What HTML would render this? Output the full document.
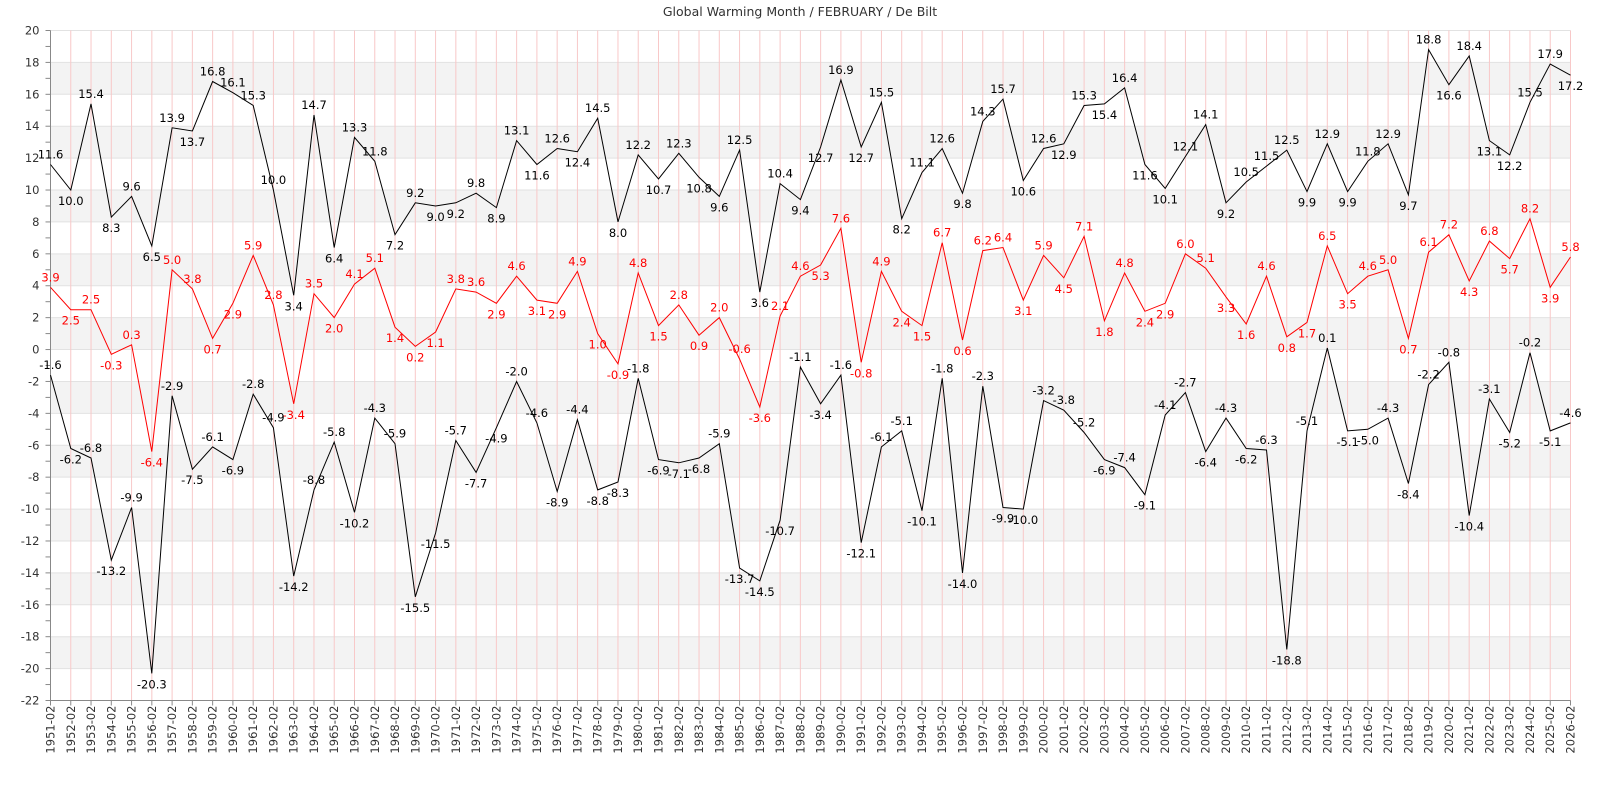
<!DOCTYPE html>
<html><head><meta charset="utf-8"><style>
html,body{margin:0;padding:0;background:#fff;width:1600px;height:800px;overflow:hidden}
svg{display:block}
svg text{font-family:"DejaVu Sans","Liberation Sans",sans-serif;font-size:11.5px}
</style></head><body>
<svg id="c" width="1600" height="800" xmlns="http://www.w3.org/2000/svg">
<text x="800" y="16" text-anchor="middle" style="font-size:12.5px" fill="#333">Global Warming Month / FEBRUARY / De Bilt</text>
</svg>
<script>
var mx=[11.6,10.0,15.4,8.3,9.6,6.5,13.9,13.7,16.8,16.1,15.3,10.0,3.4,14.7,6.4,13.3,11.8,7.2,9.2,9.0,9.2,9.8,8.9,13.1,11.6,12.6,12.4,14.5,8.0,12.2,10.7,12.3,10.8,9.6,12.5,3.6,10.4,9.4,12.7,16.9,12.7,15.5,8.2,11.1,12.6,9.8,14.3,15.7,10.6,12.6,12.9,15.3,15.4,16.4,11.6,10.1,12.1,14.1,9.2,10.5,11.5,12.5,9.9,12.9,9.9,11.8,12.9,9.7,18.8,16.6,18.4,13.1,12.2,15.5,17.9,17.2];
var me=[3.9,2.5,2.5,-0.3,0.3,-6.4,5.0,3.8,0.7,2.9,5.9,2.8,-3.4,3.5,2.0,4.1,5.1,1.4,0.2,1.1,3.8,3.6,2.9,4.6,3.1,2.9,4.9,1.0,-0.9,4.8,1.5,2.8,0.9,2.0,-0.6,-3.6,2.1,4.6,5.3,7.6,-0.8,4.9,2.4,1.5,6.7,0.6,6.2,6.4,3.1,5.9,4.5,7.1,1.8,4.8,2.4,2.9,6.0,5.1,3.3,1.6,4.6,0.8,1.7,6.5,3.5,4.6,5.0,0.7,6.1,7.2,4.3,6.8,5.7,8.2,3.9,5.8];
var mn=[-1.6,-6.2,-6.8,-13.2,-9.9,-20.3,-2.9,-7.5,-6.1,-6.9,-2.8,-4.9,-14.2,-8.8,-5.8,-10.2,-4.3,-5.9,-15.5,-11.5,-5.7,-7.7,-4.9,-2.0,-4.6,-8.9,-4.4,-8.8,-8.3,-1.8,-6.9,-7.1,-6.8,-5.9,-13.7,-14.5,-10.7,-1.1,-3.4,-1.6,-12.1,-6.1,-5.1,-10.1,-1.8,-14.0,-2.3,-9.9,-10.0,-3.2,-3.8,-5.2,-6.9,-7.4,-9.1,-4.1,-2.7,-6.4,-4.3,-6.2,-6.3,-18.8,-5.1,0.1,-5.1,-5.0,-4.3,-8.4,-2.2,-0.8,-10.4,-3.1,-5.2,-0.2,-5.1,-4.6];
var L=50.5,R=1570.5,T=30.5,B=700.5;
function Y(v){return T+(20-v)*(B-T)/42}
function X(i){return L+i*(R-L)/75}
var s='';
for(var v=18;v>-22;v-=4){s+='<rect x="'+L+'" y="'+Y(v)+'" width="'+(R-L)+'" height="'+(Y(v-2)-Y(v))+'" fill="#f3f3f3"/>';}
for(var v=-22;v<=20;v+=2){s+='<line x1="'+L+'" x2="'+R+'" y1="'+Y(v)+'" y2="'+Y(v)+'" stroke="#e2e2e2" stroke-width="1"/>';
s+='<text x="'+(L-11)+'" y="'+(Y(v)+4)+'" text-anchor="end" fill="#333">'+v+'</text>';}
for(var v=-22;v<=20;v+=1){s+='<line x1="'+(L-5)+'" x2="'+L+'" y1="'+Y(v)+'" y2="'+Y(v)+'" stroke="#888"/>';}
for(var i=0;i<76;i++){var x=X(i);s+='<line x1="'+x+'" x2="'+x+'" y1="'+T+'" y2="'+B+'" stroke="#f8c8c8" stroke-width="1"/>';
s+='<line x1="'+x+'" x2="'+x+'" y1="'+B+'" y2="'+(B+5)+'" stroke="#888"/>';
s+='<text transform="translate('+(x+4)+','+(B+5)+') rotate(-90)" text-anchor="end" fill="#333">'+(1951+i)+'-02</text>';}
s+='<line x1="'+L+'" x2="'+L+'" y1="'+T+'" y2="'+B+'" stroke="#888"/><line x1="'+L+'" x2="'+R+'" y1="'+B+'" y2="'+B+'" stroke="#888"/>';
function ser(d,c){var p='';for(var i=0;i<76;i++)p+=(i?'L':'M')+X(i).toFixed(1)+','+Y(d[i]).toFixed(1);
s+='<path d="'+p+'" fill="none" stroke="'+c+'" stroke-width="1"/>';
for(var i=0;i<76;i++){var a=i?d[i-1]:d[i+1],b=i<75?d[i+1]:d[i-1];var up=d[i]>=(a+b)/2;
var y=up?Y(d[i])-6:Y(d[i])+15;s+='<text x="'+X(i).toFixed(1)+'" y="'+y.toFixed(1)+'" text-anchor="middle" fill="'+c+'">'+d[i].toFixed(1)+'</text>';}}
ser(mx,'#000');ser(me,'#f00');ser(mn,'#000');
document.getElementById('c').insertAdjacentHTML('beforeend',s);
</script>
</body></html>
